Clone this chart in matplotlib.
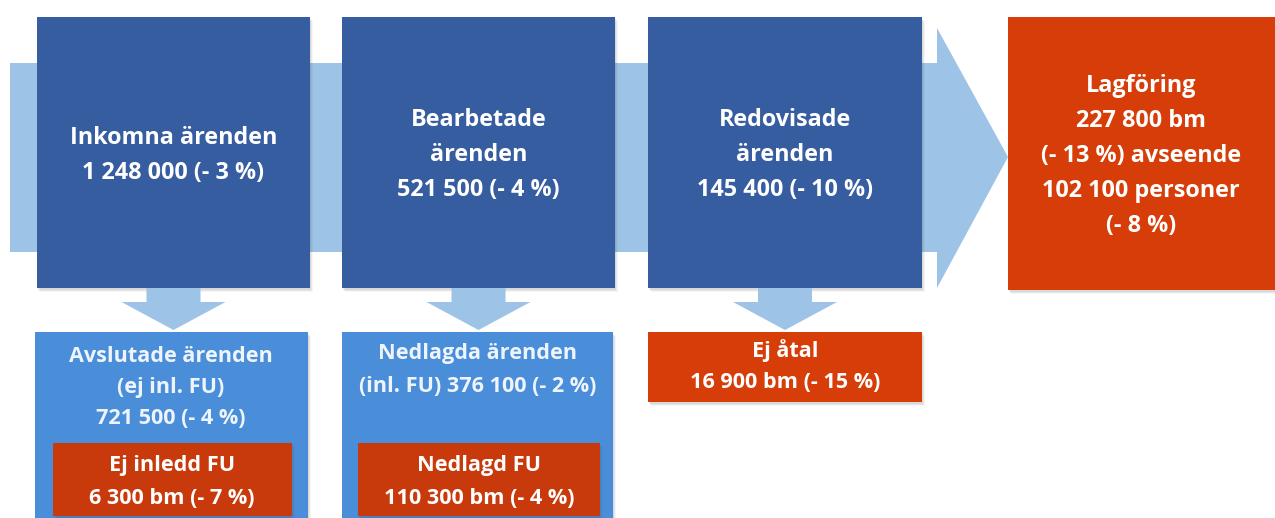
import matplotlib
matplotlib.use("Agg")
import matplotlib.pyplot as plt
from matplotlib.patches import Rectangle, Polygon

plt.rcParams["font.family"] = ["Open Sans", "DejaVu Sans"]

# text of each box, one entry per line
stage_labels = [
    ["Inkomna ärenden", "1 248 000 (- 3 %)"],
    ["Bearbetade", "ärenden", "521 500 (- 4 %)"],
    ["Redovisade", "ärenden", "145 400 (- 10 %)"],
    ["Lagföring", "227 800 bm", "(- 13 %) avseende", "102 100 personer", "(- 8 %)"],
]
outcome_labels = [
    ["Avslutade ärenden", "(ej inl. FU)", "721 500 (- 4 %)"],
    ["Nedlagda ärenden", "(inl. FU) 376 100 (- 2 %)"],
    ["Ej åtal", "16 900 bm (- 15 %)"],
]
sub_labels = [
    ["Ej inledd FU", "6 300 bm (- 7 %)"],
    ["Nedlagd FU", "110 300 bm (- 4 %)"],
]

DARK = "#365d9f"
BAND = "#9dc3e6"
LIGHT = "#4a8ed9"
RED = "#d63d08"
RED_INNER = "#c8390b"

fig = plt.figure(figsize=(12.75, 5.18), dpi=100)
ax = fig.add_axes([0, 0, 1, 1])
ax.set_xlim(0, 1275)
ax.set_ylim(518, 0)
ax.axis("off")


def box(x0, y0, x1, y1, color, shadow=True, z=2):
    if shadow:
        for i, a in enumerate([0.10, 0.08, 0.06]):
            ax.add_patch(Rectangle((x0 + 1 + i, y0 + 2 + i), x1 - x0, y1 - y0,
                                   color="#555555", alpha=a, lw=0, zorder=z - 0.5))
    ax.add_patch(Rectangle((x0, y0), x1 - x0, y1 - y0, color=color, lw=0, zorder=z))


def lines(cx, y_first, rows, step, size, color="white", z=5):
    for i, row in enumerate(rows):
        ax.text(cx, y_first + i * step, row, ha="center", va="center",
                fontsize=size, fontweight="bold", color=color, zorder=z)


# big flow arrow behind the top boxes
ax.add_patch(Polygon([(10, 63), (937, 63), (937, 28), (1008, 157), (937, 288),
                      (937, 252), (10, 252)], closed=True, color=BAND, lw=0, zorder=1))

top_x = [(37, 310), (342, 615), (648, 922)]
for (x0, x1), rows in zip(top_x, stage_labels[:3]):
    box(x0, 17, x1, 288, DARK)
    cx = (x0 + x1) / 2
    lines(cx, 155 - (len(rows) - 1) * 35 / 2, rows, 35, 16.8)
    # small arrow down
    ax.add_patch(Polygon([(cx - 27, 288), (cx + 27, 288), (cx + 27, 302), (cx + 52, 302),
                          (cx, 330), (cx - 52, 302), (cx - 27, 302)],
                         closed=True, color=BAND, lw=0, zorder=1.5))

box(1008, 17, 1275, 290, RED)
lines(1141, 86, stage_labels[3], 35, 16.8)

# lower boxes
box(35, 332, 308, 530, LIGHT)
lines(171, 356, outcome_labels[0], 31, 15.6, color="#eef4fb")
box(342, 332, 613, 530, LIGHT)
lines(478, 354, outcome_labels[1], 32, 15.6, color="#eef4fb")
box(648, 332, 922, 402, RED)
lines(785, 351, outcome_labels[2], 32, 15.6)

box(53, 443, 292, 516, RED_INNER, z=3)
lines(172, 466, sub_labels[0], 32, 15.6)
box(358, 443, 600, 516, RED_INNER, z=3)
lines(479, 466, sub_labels[1], 32, 15.6)

fig.savefig("out.png", dpi=100)
